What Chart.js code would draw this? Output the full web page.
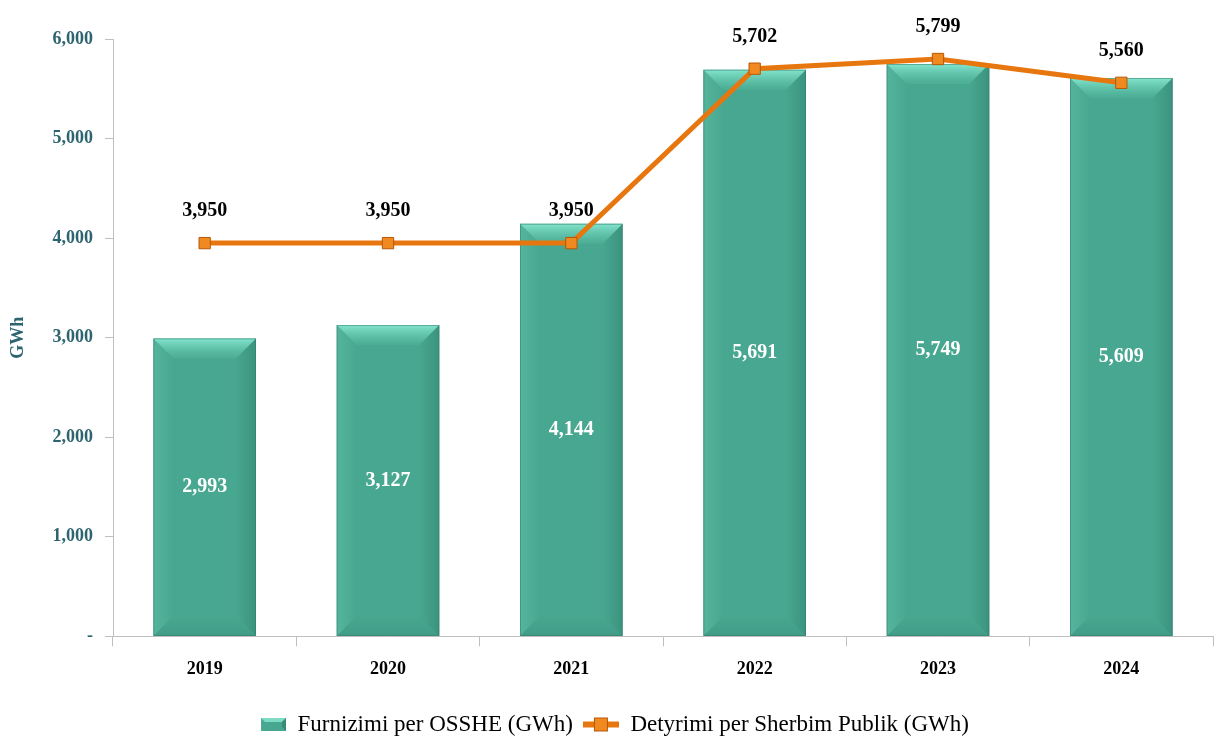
<!DOCTYPE html>
<html>
<head>
<meta charset="utf-8">
<script src="https://cdn.jsdelivr.net/npm/chart.js@4"></script>
<style>
  body { margin: 0; background: #fff; }
  #wrap { width: 1222px; height: 740px; }
</style>
</head>
<body>
<div id="wrap"><canvas id="myChart" width="1222" height="740"></canvas></div>
<script>
let years = ['2019', '2020', '2021', '2022', '2023', '2024']
let furnizimi = [2993, 3127, 4144, 5691, 5749, 5609]
let detyrimi = [3950, 3950, 3950, 5702, 5799, 5560]
let label_bar = 'Furnizimi per OSSHE (GWh)'
let label_line = 'Detyrimi per Sherbim Publik (GWh)'

let font_name = "'Liberation Serif', 'Times New Roman', serif"
let teal_text = '#2d6470'
let orange = '#e8760f'

function fmt(v) {
    return v.toLocaleString('en-US')
}

// small canvases used as legend icons
function bar_icon() {
    let c = document.createElement('canvas')
    c.width = 36; c.height = 13
    let g = c.getContext('2d')
    g.fillStyle = '#48a790'
    g.fillRect(11, 0, 25, 13)
    g.fillStyle = '#7fdcc4'
    g.beginPath(); g.moveTo(11, 0); g.lineTo(36, 0); g.lineTo(32, 4); g.lineTo(15, 4); g.fill()
    g.fillStyle = '#3a8a76'
    g.beginPath(); g.moveTo(36, 0); g.lineTo(36, 13); g.lineTo(32, 9); g.lineTo(32, 4); g.fill()
    return c
}
function line_icon() {
    let c = document.createElement('canvas')
    c.width = 36; c.height = 16
    let g = c.getContext('2d')
    g.fillStyle = orange
    g.fillRect(0, 5, 36, 6)
    g.fillStyle = '#f08a20'
    g.strokeStyle = '#b65706'
    g.lineWidth = 1
    g.fillRect(11, 1, 14, 14)
    g.strokeRect(11.5, 1.5, 13, 13)
    return c
}

let bevel = {
    id: 'bevel',
    afterDatasetDraw(chart, args) {
        if (args.index !== 0) return
        let ctx = chart.ctx
        args.meta.data.forEach(bar => {
            let p = bar.getProps(['x', 'y', 'base', 'width'], true)
            let x0 = p.x - p.width / 2, x1 = p.x + p.width / 2
            let top = p.y, bot = p.base
            let b = 20
            ctx.save()
            // top face
            let gt = ctx.createLinearGradient(0, top, 0, top + b)
            gt.addColorStop(0, 'rgba(135,232,208,0.95)')
            gt.addColorStop(1, 'rgba(100,205,178,0.15)')
            ctx.fillStyle = gt
            ctx.beginPath()
            ctx.moveTo(x0, top); ctx.lineTo(x1, top); ctx.lineTo(x1 - b, top + b); ctx.lineTo(x0 + b, top + b)
            ctx.closePath(); ctx.fill()
            // left side
            let gl = ctx.createLinearGradient(x0, 0, x0 + b, 0)
            gl.addColorStop(0, 'rgba(110,205,180,0.35)')
            gl.addColorStop(1, 'rgba(110,205,180,0)')
            ctx.fillStyle = gl
            ctx.beginPath()
            ctx.moveTo(x0, top); ctx.lineTo(x0 + b, top + b); ctx.lineTo(x0 + b, bot - b); ctx.lineTo(x0, bot)
            ctx.closePath(); ctx.fill()
            // right side
            let gr = ctx.createLinearGradient(x1 - b, 0, x1, 0)
            gr.addColorStop(0, 'rgba(30,100,85,0)')
            gr.addColorStop(1, 'rgba(30,100,85,0.3)')
            ctx.fillStyle = gr
            ctx.beginPath()
            ctx.moveTo(x1, top); ctx.lineTo(x1 - b, top + b); ctx.lineTo(x1 - b, bot - b); ctx.lineTo(x1, bot)
            ctx.closePath(); ctx.fill()
            // bottom
            let gb = ctx.createLinearGradient(0, bot - b, 0, bot)
            gb.addColorStop(0, 'rgba(30,100,85,0)')
            gb.addColorStop(1, 'rgba(30,100,85,0.15)')
            ctx.fillStyle = gb
            ctx.beginPath()
            ctx.moveTo(x0, bot); ctx.lineTo(x0 + b, bot - b); ctx.lineTo(x1 - b, bot - b); ctx.lineTo(x1, bot)
            ctx.closePath(); ctx.fill()
            ctx.strokeStyle = 'rgba(50,120,105,0.5)'
            ctx.lineWidth = 1
            ctx.strokeRect(x0 + 0.5, top + 0.5, p.width - 1, bot - top - 1)
            ctx.restore()
        })
    }
}

let value_labels = {
    id: 'value_labels',
    afterDatasetsDraw(chart) {
        let ctx = chart.ctx
        ctx.save()
        ctx.textAlign = 'center'
        ctx.textBaseline = 'middle'
        ctx.font = 'bold 20px ' + font_name
        let m0 = chart.getDatasetMeta(0)
        ctx.fillStyle = '#ffffff'
        m0.data.forEach((bar, i) => {
            ctx.fillText(fmt(furnizimi[i]), bar.x, (bar.y + bar.base) / 2)
        })
        let m1 = chart.getDatasetMeta(1)
        ctx.fillStyle = '#000000'
        m1.data.forEach((pt, i) => {
            ctx.fillText(fmt(detyrimi[i]), pt.x, pt.y - 32)
        })
        ctx.restore()
    }
}

let ctx = document.getElementById('myChart').getContext('2d')

let myChart = new Chart(ctx, {
    data: {
        labels: years,
        datasets: [{
            type: 'bar',
            label: label_bar,
            data: furnizimi,
            backgroundColor: '#48a790',
            categoryPercentage: 1,
            barPercentage: 0.56,
            order: 1
        }, {
            type: 'line',
            label: label_line,
            data: detyrimi,
            borderColor: orange,
            borderWidth: 5,
            pointStyle: 'rect',
            pointRadius: 8,
            pointBackgroundColor: '#f08a20',
            pointBorderColor: '#b65706',
            pointBorderWidth: 1,
            tension: 0,
            order: 0
        }]
    },
    options: {
        responsive: false,
        animation: false,
        events: [],
        layout: { padding: { top: 39, right: 7, left: 4, bottom: -6 } },
        scales: {
            x: {
                afterFit: s => { s.height += 11 },
                grid: { display: true, drawOnChartArea: false, offset: true, tickLength: 10, color: '#bfbfbf' },
                border: { color: '#bfbfbf', width: 1 },
                ticks: { color: '#000', font: { family: font_name, size: 18, weight: 'bold' }, padding: 12 }
            },
            y: {
                min: 0,
                max: 6000,
                afterFit: s => { s.width = 109 },
                grid: { display: true, drawOnChartArea: false, tickLength: 8, color: '#bfbfbf' },
                border: { color: '#bfbfbf', width: 1 },
                ticks: {
                    stepSize: 1000,
                    color: teal_text,
                    font: { family: font_name, size: 18, weight: 'bold' },
                    padding: 12,
                    callback: v => v === 0 ? '-' : fmt(v)
                },
                title: {
                    display: true,
                    text: 'GWh',
                    color: teal_text,
                    font: { family: font_name, size: 18, weight: 'bold' }
                }
            }
        },
        plugins: {
            tooltip: { enabled: false },
            legend: {
                position: 'bottom',
                labels: {
                    usePointStyle: true,
                    pointStyleWidth: 36,
                    boxHeight: 16,
                    padding: 10,
                    color: '#000',
                    font: { family: font_name, size: 23 },
                    generateLabels: chart => [
                        { text: label_bar, pointStyle: bar_icon(), datasetIndex: 0, fontColor: '#000', lineWidth: 0, hidden: false },
                        { text: label_line, pointStyle: line_icon(), datasetIndex: 1, fontColor: '#000', lineWidth: 0, hidden: false }
                    ]
                }
            }
        }
    },
    plugins: [bevel, value_labels]
})
</script>
</body>
</html>
